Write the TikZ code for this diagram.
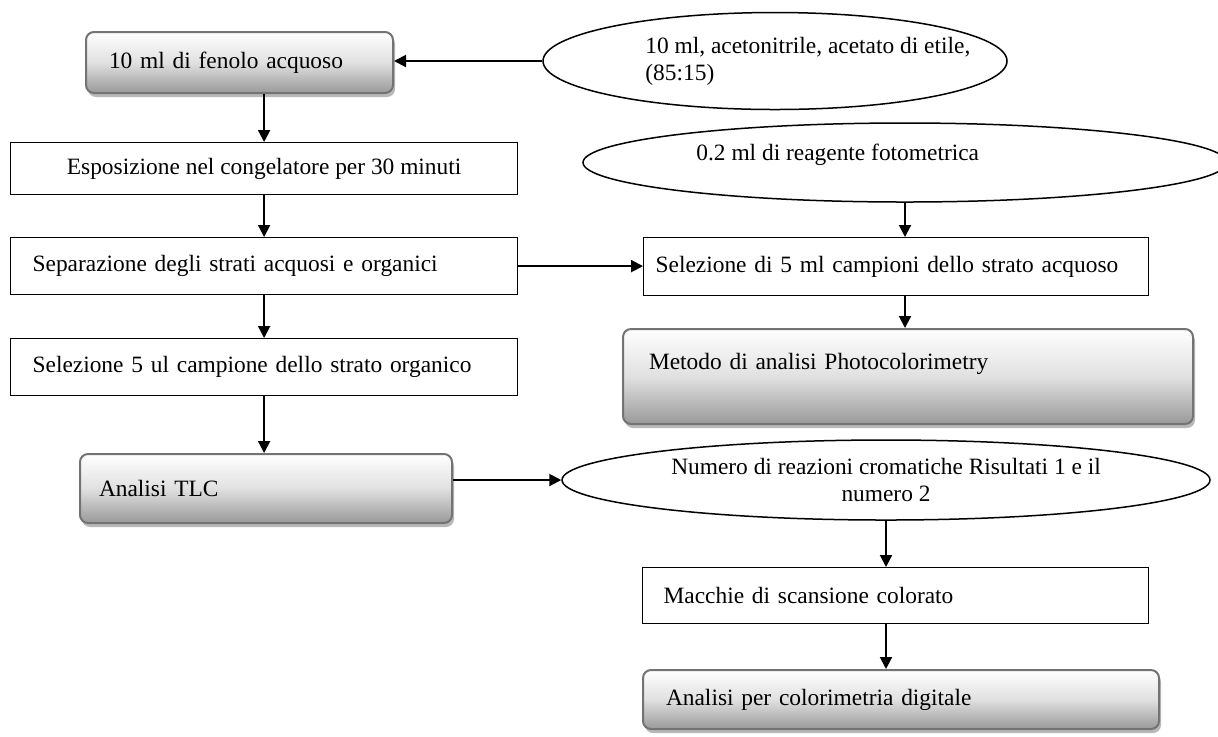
\documentclass[tikz,border=0pt]{standalone}
\usepackage{fontspec}
\setmainfont{Liberation Serif}
\usetikzlibrary{arrows.meta,positioning,shapes.geometric,shadows}

\begin{document}
\begin{tikzpicture}[
  x=0.5pt, y=-0.5pt,
  font=\fontsize{11.7}{13.5}\selectfont,
  block/.style={draw, line width=0.6pt, fill=white, align=left, inner ysep=0pt},
  result/.style={draw=black!55, line width=1pt, rounded corners=4pt, align=left,
    inner ysep=0pt, top color=white, bottom color=black!40, middle color=black!12,
    drop shadow={shadow xshift=1pt, shadow yshift=-2pt, fill=black!28, opacity=1}},
  source/.style={draw, ellipse, line width=0.75pt, fill=white, inner sep=0pt},
  note/.style={inner sep=0pt, align=left},
  arrow/.style={-{Triangle[length=6pt, width=6pt]}, line width=1pt}
]
\useasboundingbox (0,0) rectangle (1218,736);
% left column
\node[result, anchor=north west, inner xsep=11.5pt, text width=130.5pt,
  minimum height=30.5pt] (fenolo) at (85,31) {10 ml di fenolo acquoso};
\node[source, minimum width=232pt, minimum height=48.5pt] (solvent) at (775,61) {};
\node[note, anchor=west] (solvtext) at (645,61) {10 ml, acetonitrile, acetato di etile,\\(85:15)};
\node[block, anchor=north west, align=center, minimum width=253.5pt,
  minimum height=26pt] (freeze) at (10,142) {Esposizione nel congelatore per 30 minuti};
\node[block, anchor=north west, inner xsep=11pt, text width=231.5pt,
  minimum height=28.5pt] (separate) at (10,237) {Separazione degli strati acquosi e organici};
\node[block, anchor=north west, inner xsep=11pt, text width=231.5pt,
  minimum height=28.5pt] (orgsample) at (10,338) {Selezione 5 ul campione dello strato organico};
\node[result, anchor=north west, inner xsep=9.5pt, text width=167pt,
  minimum height=34.5pt] (tlc) at (79,453) {Analisi TLC};
% right column
\node[source, minimum width=322pt, minimum height=39.5pt] (reagent) at (905,162.5) {};
\node[note, anchor=west] (reagtext) at (696,155) {0.2 ml di reagente fotometrica};
\node[block, anchor=north west, inner xsep=6pt, text width=240.5pt,
  minimum height=29pt] (aqsample) at (643,237) {Selezione di 5 ml campioni dello strato acquoso};
\node[result, anchor=north west, inner xsep=13pt, text width=259pt,
  text height=20pt, text depth=27.5pt] (photo) at (622,328) {Metodo di analisi Photocolorimetry};
\node[source, minimum width=324pt, minimum height=40pt, align=center] (numero) at (886,480)
  {Numero di reazioni cromatiche Risultati 1 e il\\numero 2};
\node[block, anchor=north west, inner xsep=10.5pt, text width=232pt,
  minimum height=28pt] (macchie) at (642,567) {Macchie di scansione colorato};
\node[result, anchor=north west, inner xsep=11.5pt, text width=235pt,
  minimum height=29.5pt] (digital) at (642,669) {Analisi per colorimetria digitale};

\draw[arrow] (solvent.west) -- (fenolo.east |- solvent.west);
\draw[arrow] (freeze.north |- fenolo.south) -- (freeze.north);
\draw[arrow] (freeze) -- (separate);
\draw[arrow] (separate) -- (orgsample);
\draw[arrow] (orgsample.south) -- (orgsample.south |- tlc.north);
\draw[arrow] (separate.east) -- (separate.east -| aqsample.west);
\draw[arrow] (reagent.south) -- (reagent.south |- aqsample.north);
\draw[arrow] (aqsample.south -| reagent.south) -- (reagent.south |- photo.north);
\draw[arrow] (numero.west -| tlc.east) -- (numero.west);
\draw[arrow] (numero.south) -- (numero.south |- macchie.north);
\draw[arrow] (macchie.south -| numero.south) -- (numero.south |- digital.north);
\end{tikzpicture}
\end{document}
